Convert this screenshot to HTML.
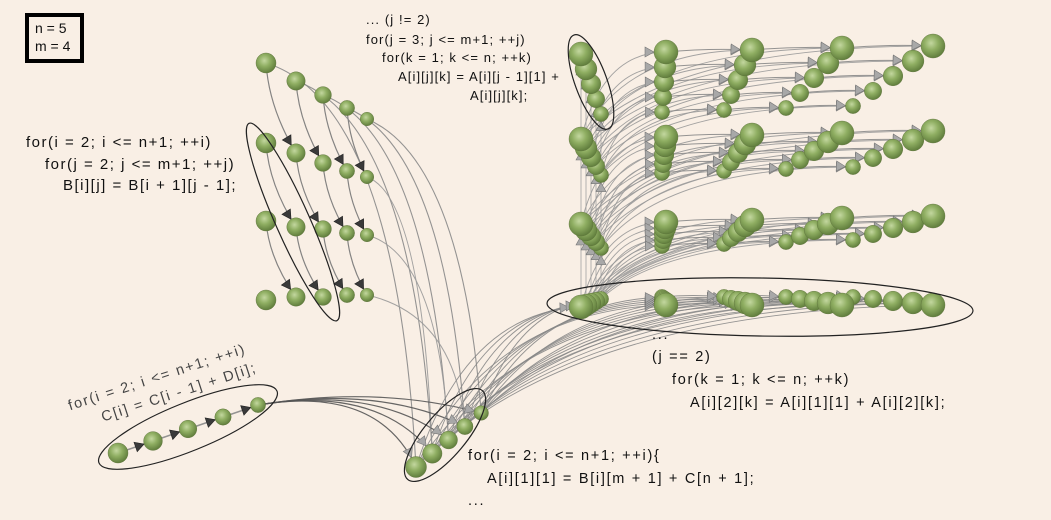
<!DOCTYPE html>
<html><head><meta charset="utf-8">
<style>
html,body{margin:0;padding:0;background:#f9efe5;}
#wrap{position:relative;width:1051px;height:520px;overflow:hidden;background:#f9efe5;font-family:"Liberation Sans",sans-serif;color:#111;}
.t{position:absolute;white-space:pre;font-size:14px;line-height:18px;}
.c1{font-size:15px;letter-spacing:1.5px;}
.c2{font-size:13px;letter-spacing:1.1px;}
.c3{font-size:14.5px;letter-spacing:1.7px;}
svg{position:absolute;left:0;top:0;}
</style></head>
<body>
<div id="wrap">
<svg id="svg" width="1051" height="520">
<defs>
<radialGradient id="sph" cx="0.42" cy="0.38" r="0.65">
<stop offset="0" stop-color="#c3d79f"/><stop offset="0.45" stop-color="#8fae62"/><stop offset="1" stop-color="#5d7a3a"/>
</radialGradient>
</defs>
<g id="edges"></g><g id="cones"></g><g id="nodes"></g><g id="loops"></g>
</svg>
<div style="position:absolute;left:25px;top:13px;width:51px;height:42px;border:4px solid #000;background:#f9efe5;">
<div class="t" style="left:6px;top:2px;">n = 5</div>
<div class="t" style="left:6px;top:20px;">m = 4</div>
</div>
<div>
<div class="t c1" style="left:26px;top:134px;">for(i = 2; i &lt;= n+1; ++i)</div>
<div class="t c1" style="left:45px;top:156px;">for(j = 2; j &lt;= m+1; ++j)</div>
<div class="t c1" style="left:63px;top:177px;">B[i][j] = B[i + 1][j - 1];</div>
</div>
<div>
<div class="t c2" style="left:366px;top:11px;">... (j != 2)</div>
<div class="t c2" style="left:366px;top:31px;">for(j = 3; j &lt;= m+1; ++j)</div>
<div class="t c2" style="left:382px;top:49px;">for(k = 1; k &lt;= n; ++k)</div>
<div class="t c2" style="left:398px;top:68px;">A[i][j][k] = A[i][j - 1][1] +</div>
<div class="t c2" style="left:470px;top:87px;">A[i][j][k];</div>
</div>
<div>
<div class="t c3" style="left:652px;top:326px;">...</div>
<div class="t c3" style="left:652px;top:348px;">(j == 2)</div>
<div class="t c3" style="left:672px;top:371px;">for(k = 1; k &lt;= n; ++k)</div>
<div class="t c3" style="left:690px;top:394px;">A[i][2][k] = A[i][1][1] + A[i][2][k];</div>
</div>
<div>
<div class="t c3" style="left:468px;top:447px;">for(i = 2; i &lt;= n+1; ++i){</div>
<div class="t c3" style="left:487px;top:470px;">A[i][1][1] = B[i][m + 1] + C[n + 1];</div>
<div class="t c3" style="left:468px;top:492px;">...</div>
</div>
<div style="position:absolute;left:66px;top:398px;transform:rotate(-18deg);transform-origin:0 0;color:#444;">
<div class="t c3" style="left:0;top:0;">for(i = 2; i &lt;= n+1; ++i)</div>
<div class="t c3" style="left:28px;top:21px;">C[i] = C[i - 1] + D[i];</div>
</div>
</div>
<script>
// --- data ---
const nVals = [0,1,2,3,4];            // i index (rows)
const levels = [0,1,2,3];             // j levels top->bottom (j=5,4,3,2)
const kCols = [1,2,3,4,5];            // k index
const bRows = [0,1,2,3];              // B i index
const bCols = [0,1,2,3,4];            // B j index
const cNodes = [0,1,2,3,4];           // C chain
// --- geometry (axis-like mapping functions) ---
const lvlY=[52,137,222,305], lvlDy=[15,9,6,-2];
const kX=[581,666,752,842,933], kDx=[5,-1,-7,-14,-20];
function aPos(r,l,k){return {x:kX[k-1]+kDx[k-1]*r, y:lvlY[l]+lvlDy[l]*r + (k>1? -2*(k-2)*(l<3?1:0) : 2), r:12-r*1.1};}
const bX=[266,296,323,347,367], bY=[[63,81,95,108,119],[143,153,163,171,177],[221,227,229,233,235],[300,297,297,295,295]];
function bPos(r,c){return {x:bX[c], y:bY[r][c], r:10-c*0.8};}
function cPos(i){return {x:118+i*35, y:453-i*12, r:10-i*0.6};}
function a1Pos(i){return {x:416+i*16.3, y:467-i*13.5, r:10.5-i*0.8};}
const NS='http://www.w3.org/2000/svg';
const E=document.getElementById('edges'),C=document.getElementById('cones'),N=document.getElementById('nodes'),L=document.getElementById('loops');
function mk(tag,attrs,parent){const el=document.createElementNS(NS,tag);for(const a in attrs)el.setAttribute(a,attrs[a]);parent.appendChild(el);return el;}
function sphere(p,name){const el=mk('circle',{cx:p.x,cy:p.y,r:p.r,fill:'url(#sph)',stroke:'#5a7038','stroke-width':0.4},N);

}
function cone(tx,ty,dx,dy,dark,rad){const len=Math.hypot(dx,dy)||1;const ux=dx/len,uy=dy/len;const tipx=tx-ux*rad,tipy=ty-uy*rad;const bx=tipx-ux*9,by=tipy-uy*9;
const el=mk('polygon',{points:`${tipx},${tipy} ${bx-uy*5},${by+ux*5} ${bx+uy*5},${by-ux*5}`,fill:dark?'#3a3a3a':'#a8a8a8',stroke:dark?'#222':'#777','stroke-width':0.6},C);

}
function edge(s,t,cx,cy,col,w,dark,noCone){const el=mk('path',{d:`M${s.x},${s.y} Q${cx},${cy} ${t.x},${t.y}`,fill:'none',stroke:col,'stroke-width':w,opacity:0.9},E);


if(!noCone)cone(t.x,t.y,t.x-cx,t.y-cy,dark,t.r);}
// B edges: B[r][c] -> B[r+1][c+1]
bRows.forEach(r=>bCols.forEach(c=>{if(r<3&&c<4){const s=bPos(r,c),t=bPos(r+1,c+1);edge(s,t,s.x+(t.x-s.x)*0.1,(s.y+t.y)/2,'#777',1.2,true);}}));
// B -> A[i][1][1]
nVals.forEach(i=>{const s=bPos(0,i),t=a1Pos(i);edge(s,t,t.x-20,s.y+40,'#888',1.1,false,true);
bRows.slice(1).forEach(r=>{if(i==4){const s2=bPos(r,4);edge(s2,a1Pos(r),a1Pos(r).x-10,s2.y+20,'#999',1,false,true);}});});
// C chain
cNodes.forEach(i=>{if(i<4){const s=cPos(i),t=cPos(i+1);edge(s,t,(s.x+t.x)/2,(s.y+t.y)/2,'#888',1.5,true);}});
nVals.forEach(i=>{const s=cPos(4),t=a1Pos(i);edge(s,t,s.x+120,s.y-20,'#555',1.2,false);});
// A init -> bottom level (j==2)
nVals.forEach(r=>{const s=a1Pos(r);kCols.forEach(k=>{const t=aPos(r,3,k);edge(s,t,s.x+(t.x-s.x)*0.3,t.y+5,'#888',0.9,false);});});
// stacks upward
nVals.forEach(r=>levels.forEach(l=>{if(l>0){const s=aPos(r,l,1),t=aPos(r,l-1,1);edge(s,t,s.x,(s.y+t.y)/2,'#aaa',1,false);}}));
// fans: A[i][j-1][1] -> A[i][j][k]
nVals.forEach(r=>levels.forEach(l=>{if(l<3){const s=aPos(r,l+1,1);kCols.slice(1).forEach(k=>{const t=aPos(r,l,k);edge(s,t,s.x+(t.x-s.x)*0.25,t.y,'#999',0.9,false);});}}));
// chains along k
nVals.forEach(r=>levels.forEach(l=>{kCols.slice(1,4).forEach(k=>{const s=aPos(r,l,k),t=aPos(r,l,k+1);edge(s,t,(s.x+t.x)/2,(s.y+t.y)/2-3,'#888',1,false);});}));
// nodes
bRows.forEach(r=>bCols.forEach(c=>sphere(bPos(r,c),'b-node')));
cNodes.forEach(i=>sphere(cPos(i),'c-node'));
[...nVals].reverse().forEach(i=>sphere(a1Pos(i),'a-init-node'));
levels.forEach(l=>[...nVals].reverse().forEach(r=>kCols.forEach(k=>sphere(aPos(r,l,k),'a-node'))));
// loop ellipses
function loop(cx,cy,rx,ry,rot,name){const el=mk('ellipse',{cx:cx,cy:cy,rx:rx,ry:ry,transform:`rotate(${rot} ${cx} ${cy})`,fill:'none',stroke:'#222','stroke-width':1.2},L);

}
loop(293,222,108,17,66,'b-loop-outline');
loop(188,427,96,24,-22,'c-loop-outline');
loop(445,435,58,21,-50,'a-init-loop-outline');
loop(591,82,50,16,70,'a-upper-loop-outline');
loop(760,307,213,29,1,'a-j2-loop-outline');
</script>
</body></html>
